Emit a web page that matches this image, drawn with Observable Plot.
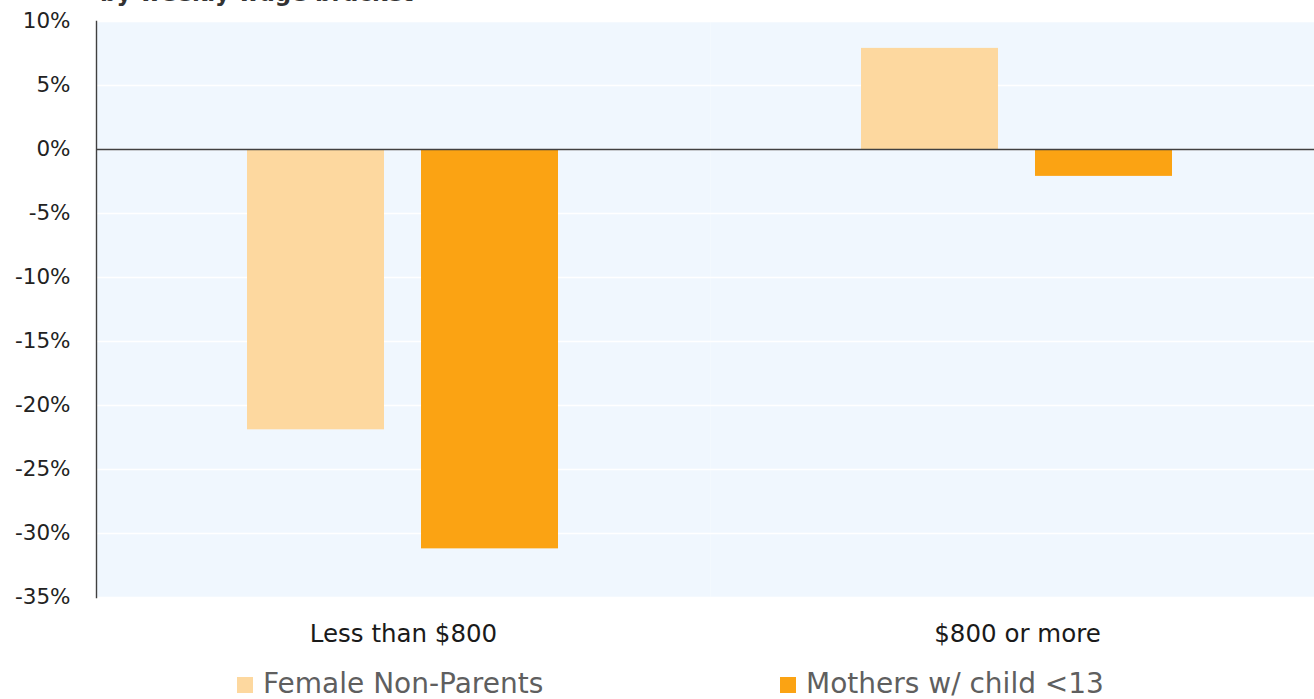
<!DOCTYPE html>
<html>
<head>
<meta charset="utf-8">
<script src="https://cdn.jsdelivr.net/npm/d3@7"></script>
<script src="https://cdn.jsdelivr.net/npm/@observablehq/plot@0.6"></script>
<style>
  html, body { margin: 0; padding: 0; background: #ffffff; overflow: hidden; }
  #wrap { position: relative; width: 1314px; height: 699px; overflow: hidden; font-family: "DejaVu Sans", Verdana, sans-serif; }
  #subtitle { position: absolute; left: 100px; top: -20px; font-size: 23px; font-weight: bold; color: #333333; white-space: nowrap; }
  #chart { position: absolute; left: 0; top: 0; }
  .leg { position: absolute; top: 667px; font-size: 28px; color: #5f5f5f; white-space: nowrap; line-height: 34px; }
  .sw { position: absolute; top: 677px; width: 16px; height: 16px; }
</style>
</head>
<body>
<div id="wrap">
  <div id="subtitle">by weekly wage bracket</div>
  <div id="chart"></div>
</div>
<script>
const groups = ["Less than $800", "$800 or more"];
const series = ["Female Non-Parents", "Mothers w/ child <13"];
const femaleNonParents = [-21.9, 7.9];
const mothers = [-31.2, -2.1];
const yTicks = [10, 5, 0, -5, -10, -15, -20, -25, -30, -35];
const colors = ["#FDD89F", "#FBA313"];

const data = [];
groups.forEach((g, i) => {
  data.push({group: g, series: series[0], value: femaleNonParents[i]});
  data.push({group: g, series: series[1], value: mothers[i]});
});

const chart = Plot.plot({
  width: 1314,
  height: 660,
  marginLeft: 96,
  marginRight: -10,
  marginTop: 21,
  marginBottom: 63,
  style: {fontFamily: "'DejaVu Sans', Verdana, sans-serif", background: "transparent", color: "#262626"},
  fx: {domain: groups, padding: 0, label: null},
  x: {domain: series, paddingInner: 0.211, paddingOuter: 0.86, axis: null},
  y: {domain: [-35, 10], label: null},
  color: {domain: series, range: colors},
  marks: [
    Plot.frame({fill: "#F0F7FE", stroke: null}),
    Plot.gridY(yTicks, {stroke: "#ffffff", strokeOpacity: 1, strokeWidth: 1.5}),
    Plot.barY(data, {fx: "group", x: "series", y: "value", fill: "series"}),
    Plot.ruleY([0], {stroke: "#404040", strokeWidth: 1.4}),
    Plot.frame({anchor: "left", stroke: "#404040", strokeWidth: 1.4, facetAnchor: "left"}),
    Plot.axisY(yTicks, {tickSize: 0, tickPadding: 26, tickFormat: d => d + "%", fontSize: 21.5, fill: "#222222", label: null}),
    Plot.axisFx({anchor: "bottom", tickSize: 0, tickPadding: 27, fontSize: 24.5, fill: "#1a1a1a", label: null})
  ]
});
document.getElementById("chart").appendChild(chart);

// legend
const wrap = document.getElementById("wrap");
const legX = [237, 780];
series.forEach((s, i) => {
  const sw = document.createElement("div");
  sw.className = "sw";
  sw.style.left = legX[i] + "px";
  sw.style.background = colors[i];
  wrap.appendChild(sw);
  const t = document.createElement("div");
  t.className = "leg";
  t.style.left = (legX[i] + 26) + "px";
  t.textContent = s;
  wrap.appendChild(t);
});
</script>
</body>
</html>
